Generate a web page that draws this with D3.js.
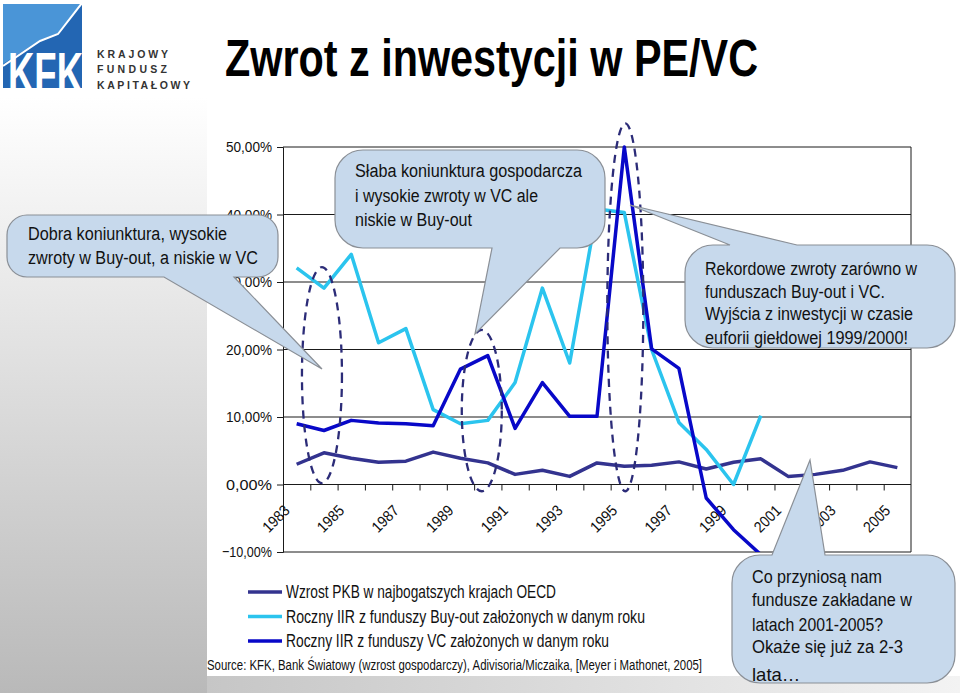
<!DOCTYPE html>
<html><head><meta charset="utf-8">
<script src="https://cdn.jsdelivr.net/npm/d3@7"></script>
<style>body{margin:0;background:#fff;} svg{display:block;}</style>
</head><body>
<svg id="c" width="960" height="693"></svg>
<script>
// ---------- data ----------
const years = ["1983","1984","1985","1986","1987","1988","1989","1990","1991","1992","1993","1994","1995","1996","1997","1998","1999","2000","2001","2002","2003","2004","2005"];
const pkb    = [3.0, 4.7, 3.9, 3.3, 3.45, 4.8, 3.9, 3.2, 1.5, 2.1, 1.2, 3.2, 2.7, 2.85, 3.35, 2.3, 3.3, 3.8, 1.2, 1.5, 2.1, 3.35, 2.5];
const buyout = [32.1, 29.1, 34.1, 21.0, 23.1, 11.1, 9.0, 9.5, 15.1, 29.1, 18.0, 40.8, 40.3, 20.0, 9.2, 5.2, 0.0, 10.2, null, null, null, null, null];
const vc     = [9.0, 8.0, 9.5, 9.1, 9.0, 8.7, 17.1, 19.1, 8.3, 15.1, 10.1, 10.1, 50.0, 20.1, 17.2, -2.0, -6.7, -10.4, null, null, null, null, null];
const yTicks = [-10, 0, 10, 20, 30, 40, 50];
const xLabelYears = ["1983","1985","1987","1989","1991","1993","1995","1997","1999","2001","2003","2005"];
const seriesNames = ["Wzrost PKB w najbogatszych krajach OECD",
                     "Roczny IIR z funduszy Buy-out założonych w danym roku",
                     "Roczny IIR z funduszy VC założonych w danym roku"];
const titleText = "Zwrot z inwestycji w PE/VC";
const sourceText = "Source: KFK, Bank Światowy (wzrost gospodarczy), Adivisoria/Miczaika, [Meyer i Mathonet, 2005]";
const bubble1Lines = ["Dobra koniunktura, wysokie", "zwroty w Buy-out, a niskie w VC"];
const bubble2Lines = ["Słaba koniunktura gospodarcza", "i wysokie zwroty w VC ale", "niskie w Buy-out"];
const bubble3Lines = ["Rekordowe zwroty zarówno w", "funduszach Buy-out i VC.", "Wyjścia z inwestycji w czasie", "euforii giełdowej 1999/2000!"];
const bubble4Lines = ["Co przyniosą nam", "fundusze zakładane w", "latach 2001-2005?", "Okaże się już za 2-3", "lata…"];
const logoLines = ["KRAJOWY", "FUNDUSZ", "KAPITAŁOWY"];

// ---------- setup ----------
const svg = d3.select("#c");
const SANS = "'Liberation Sans', Arial, Helvetica, sans-serif";
const NARROW = "'Liberation Sans Narrow', 'Arial Narrow', 'Liberation Sans', Arial, sans-serif";
function fit(sel, w, mode) {
  sel.each(function () {
    const L = this.getComputedTextLength();
    if (Math.abs(L - w) / w > 0.02) d3.select(this).attr("textLength", w).attr("lengthAdjust", mode || "spacingAndGlyphs");
  });
}
const defs = svg.append("defs");

// background
const g1 = defs.append("linearGradient").attr("id", "leftGrad").attr("x1", 0).attr("y1", 0).attr("x2", 0).attr("y2", 1);
g1.append("stop").attr("offset", "0.14").attr("stop-color", "#ffffff");
g1.append("stop").attr("offset", "1").attr("stop-color", "#b9b9b9");
const g2 = defs.append("linearGradient").attr("id", "botGrad").attr("x1", 0).attr("y1", 0).attr("x2", 1).attr("y2", 0);
g2.append("stop").attr("offset", "0").attr("stop-color", "#c6c6c6");
g2.append("stop").attr("offset", "1").attr("stop-color", "#f3f3f3");
svg.append("rect").attr("x", 0).attr("y", 0).attr("width", 960).attr("height", 693).attr("fill", "#fff");
svg.append("rect").attr("x", 0).attr("y", 0).attr("width", 207).attr("height", 693).attr("fill", "url(#leftGrad)");
svg.append("rect").attr("x", 207).attr("y", 676).attr("width", 753).attr("height", 17).attr("fill", "url(#botGrad)");

// ---------- logo ----------
defs.append("clipPath").attr("id", "logoClip").append("rect").attr("x", 3).attr("y", 4).attr("width", 79).attr("height", 86);
const logo = svg.append("g").attr("clip-path", "url(#logoClip)");
logo.append("rect").attr("x", 3).attr("y", 4).attr("width", 79).attr("height", 86).attr("fill", "#4a95d7");
logo.append("path").attr("d", "M3,64 L40,40 L58,33 L82,3 L82,90 L3,90 Z").attr("fill", "#2366b3");
logo.append("path").attr("d", "M3,66 L40,41 L58,34 L82,3").attr("fill", "none").attr("stroke", "#fff").attr("stroke-width", 2);
logo.append("text").attr("x", 8).attr("y", 93).attr("font-family", SANS).attr("font-weight", "bold")
  .attr("font-size", 58).attr("fill", "#fff").text("KFK").call(fit, 75);
logo.append("rect").attr("x", 3).attr("y", 88).attr("width", 79).attr("height", 4).attr("fill", "#fff");
svg.append("g").selectAll("text").data(logoLines).join("text")
  .attr("x", 97).attr("y", (d, i) => 57.5 + i * 15.5)
  .attr("font-family", SANS).attr("font-weight", "bold").attr("font-size", 10.5).attr("fill", "#333")
  .text(d => d)
  .each(function (d) { d3.select(this).call(fit, d === "KAPITAŁOWY" ? 93 : d === "KRAJOWY" ? 71 : 70, "spacing"); });

// ---------- title ----------
svg.append("text").attr("x", 225).attr("y", 76).attr("font-family", NARROW).attr("font-weight", "bold")
  .attr("font-size", 51).attr("fill", "#000").text(titleText).call(fit, 533);

// ---------- scales ----------
const plot = { left: 283, right: 911, top: 147, bottom: 552 };
const x = d3.scaleBand().domain(years).range([plot.left, plot.right]).padding(0);
const xc = yr => x(yr) + x.bandwidth() / 2;
const xLin = d3.scaleLinear().domain([0, years.length]).range([plot.left, plot.right]);
const y = d3.scaleLinear().domain([-10, 50]).range([plot.bottom, plot.top]);

// gridlines
svg.append("g").selectAll("line").data(yTicks).join("line")
  .attr("x1", plot.left).attr("x2", plot.right).attr("y1", d => y(d)).attr("y2", d => y(d))
  .attr("stroke", "#1a1a1a").attr("stroke-width", 1);
svg.append("line").attr("x1", plot.right).attr("x2", plot.right).attr("y1", plot.top).attr("y2", plot.bottom)
  .attr("stroke", "#1a1a1a").attr("stroke-width", 1);

// y axis
const yAxis = svg.append("g").attr("transform", `translate(${plot.left},0)`)
  .call(d3.axisLeft(y).tickValues(yTicks).tickSize(6).tickPadding(5)
    .tickFormat(d => d3.format(".2f")(d).replace(".", ",") + "%"));
yAxis.selectAll("text").attr("font-family", NARROW).attr("font-size", 15.5).attr("fill", "#111")
  .each(function (d) { d3.select(this).call(fit, d < 0 ? 50 : 46); });
yAxis.selectAll("line, path").attr("stroke", "#1a1a1a");

// x axis ticks at category boundaries, on the 0 line
const xAxis = svg.append("g").attr("transform", `translate(0,${y(0)})`)
  .call(d3.axisBottom(xLin).tickValues(d3.range(1, years.length)).tickSize(6).tickFormat(""));
xAxis.select(".domain").remove();
xAxis.selectAll("line").attr("stroke", "#1a1a1a");
svg.append("g").selectAll("text").data(xLabelYears).join("text")
  .attr("transform", d => `translate(${xc(d) - 6},${y(0) + 27}) rotate(-45)`)
  .attr("text-anchor", "end").attr("font-family", NARROW).attr("font-size", 15.5).attr("fill", "#111")
  .text(d => d).call(fit, 31);

// ---------- lines ----------
defs.append("clipPath").attr("id", "plotClip").append("rect")
  .attr("x", plot.left).attr("y", plot.top - 3).attr("width", plot.right - plot.left).attr("height", plot.bottom - plot.top + 3);
const colors = ["#33338f", "#2bc4ee", "#0808c8"];
const allSeries = [pkb, buyout, vc];
const line = d3.line().defined(d => d.v !== null).x(d => xc(d.yr)).y(d => y(d.v));
const lines = svg.append("g").attr("clip-path", "url(#plotClip)");
allSeries.forEach((s, i) => {
  lines.append("path").datum(years.map((yr, j) => ({ yr, v: s[j] })))
    .attr("d", line).attr("fill", "none").attr("stroke", colors[i]).attr("stroke-width", 3.5)
    .attr("stroke-linejoin", "round");
});

// ---------- dashed ellipses (annotations) ----------
const ell = [
  { cx: xc("1984") - 2, top: y(32.2), bot: y(0.2), rx: 20 },
  { cx: xc("1990") - 6, top: y(22.9), bot: y(-1.0), rx: 20 },
  { cx: xc("1995") + 1, top: y(53.5), bot: y(-1.0), rx: 18 }
];
svg.append("g").selectAll("ellipse").data(ell).join("ellipse")
  .attr("cx", d => d.cx).attr("cy", d => (d.top + d.bot) / 2).attr("rx", d => d.rx).attr("ry", d => (d.bot - d.top) / 2)
  .attr("fill", "none").attr("stroke", "#2c2c78").attr("stroke-width", 2.3).attr("stroke-dasharray", "8,6");

// ---------- legend ----------
const leg = svg.append("g");
seriesNames.forEach((n, i) => {
  const yy = 592 + i * 24.5;
  leg.append("line").attr("x1", 248).attr("x2", 282).attr("y1", yy).attr("y2", yy)
    .attr("stroke", colors[i]).attr("stroke-width", 3.5);
  leg.append("text").attr("x", 286).attr("y", yy + 6).attr("font-family", NARROW).attr("font-size", 17.5)
    .attr("fill", "#111").text(n).call(fit, [270, 359, 323][i]);
});
svg.append("text").attr("x", 207).attr("y", 670).attr("font-family", NARROW).attr("font-size", 14)
  .attr("fill", "#111").text(sourceText).call(fit, 495);

// ---------- callout bubbles ----------
function bubblePath(b) {
  const { x, y, w, h, r, edge, a, c, tx, ty } = b;
  const p = d3.path();
  p.moveTo(x + r, y);
  if (edge === "top") { p.lineTo(a, y); p.lineTo(tx, ty); p.lineTo(c, y); }
  p.lineTo(x + w - r, y);
  p.arcTo(x + w, y, x + w, y + r, r);
  p.lineTo(x + w, y + h - r);
  p.arcTo(x + w, y + h, x + w - r, y + h, r);
  if (edge === "bottom") { p.lineTo(c, y + h); p.lineTo(tx, ty); p.lineTo(a, y + h); }
  p.lineTo(x + r, y + h);
  p.arcTo(x, y + h, x, y + h - r, r);
  p.lineTo(x, y + r);
  p.arcTo(x, y, x + r, y, r);
  p.closePath();
  return p.toString();
}
const bubbles = [
  { x: 7, y: 215, w: 271, h: 62, r: 20, edge: "bottom", a: 164, c: 234, tx: 322, ty: 369,
    lines: bubble1Lines, tx0: 28, base: [240, 264], widths: [199, 230], fs: 18 },
  { x: 335, y: 150, w: 270, h: 98, r: 28, edge: "bottom", a: 492, c: 560, tx: 475, ty: 334,
    lines: bubble2Lines, tx0: 355, base: [177, 202, 226], widths: [227, 183, 117], fs: 18 },
  { x: 685, y: 245, w: 270, h: 103, r: 28, edge: "top", a: 730, c: 797, tx: 630, ty: 205,
    lines: bubble3Lines, tx0: 705, base: [275, 298, 320, 344], widths: [212, 180, 208, 203], fs: 18 },
  { x: 732, y: 555, w: 223, h: 128, r: 28, edge: "top", a: 772, c: 825, tx: 810, ty: 460,
    lines: bubble4Lines, tx0: 752, base: [583, 606, 631, 653, 681], widths: [130, 160, 131, 151, 48], fs: 18.5 }
];
bubbles.forEach(b => {
  const g = svg.append("g");
  g.append("path").attr("d", bubblePath(b)).attr("fill", "#c7d9ec").attr("stroke", "#8a8f96").attr("stroke-width", 1.2);
  b.lines.forEach((t, i) => {
    g.append("text").attr("x", b.tx0).attr("y", b.base[i]).attr("font-family", NARROW).attr("font-size", b.fs)
      .attr("fill", "#111").text(t).call(fit, b.widths[i]);
  });
});
</script>
</body></html>
